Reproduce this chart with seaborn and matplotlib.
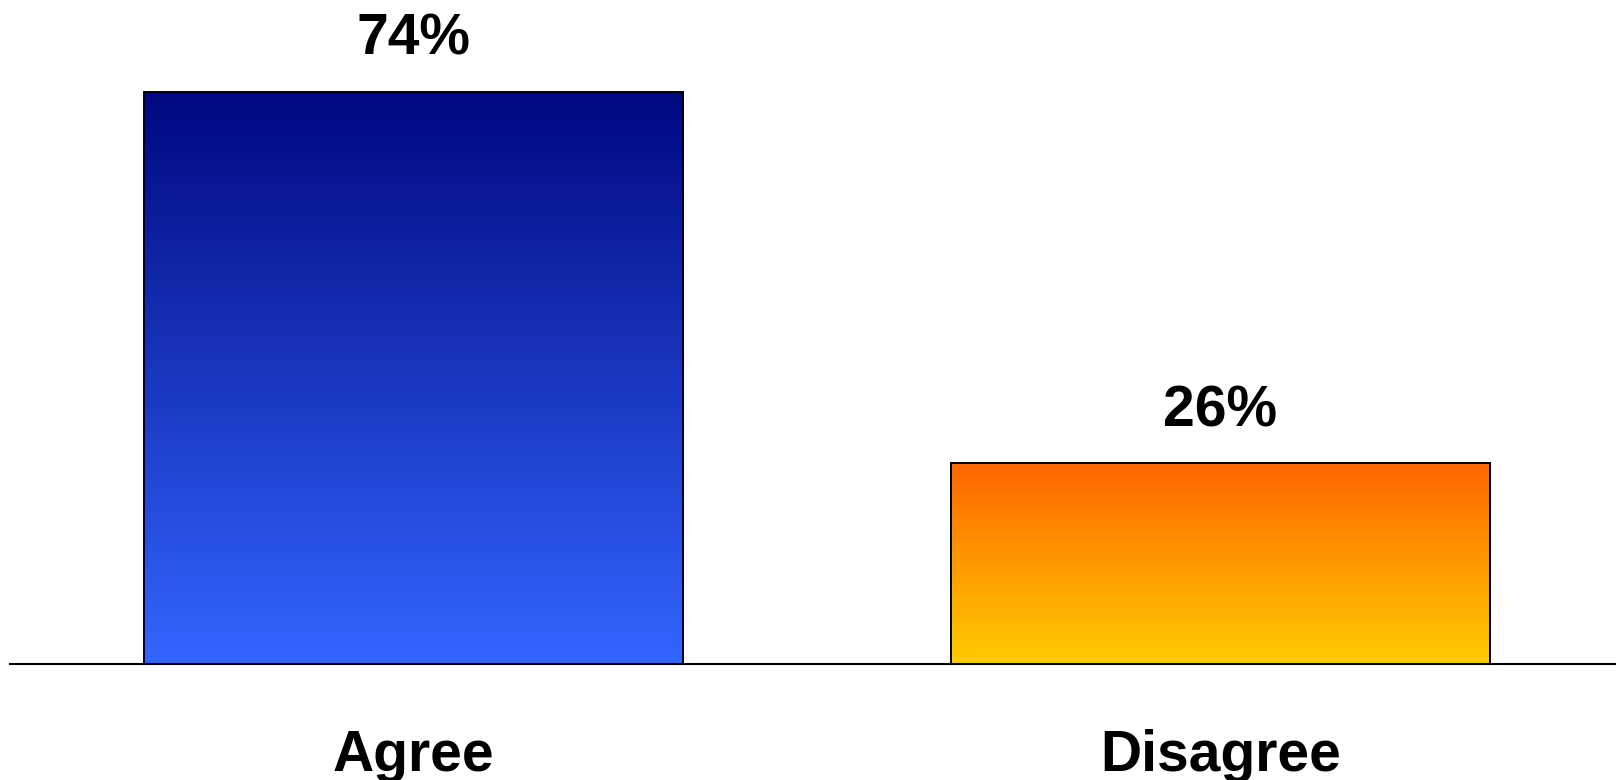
import numpy as np
import pandas as pd
import seaborn as sns
import matplotlib.pyplot as plt
from matplotlib.colors import LinearSegmentedColormap

# data
categories = ["Agree", "Disagree"]
values = [74, 26]
labels = ["74%", "26%"]
# gradient (top colour, bottom colour) per bar
gradients = [("#000880", "#3366FF"), ("#FF6600", "#FFCC00")]

sns.set_theme(style="white")
plt.rcParams['font.family'] = ['Liberation Sans', 'DejaVu Sans']
plt.rcParams['text.color'] = 'black'
plt.rcParams['xtick.color'] = 'black'

df = pd.DataFrame({"answer": categories, "pct": values})

fig = plt.figure(figsize=(16.16, 7.8), dpi=100)
ax = fig.add_axes([10 / 1616, 1 - 664 / 780, 1606 / 1616, 664 / 780])

sns.barplot(data=df, x="answer", y="pct", width=0.668, color="white",
            edgecolor="black", linewidth=1.4, ax=ax)

ax.set_xlim(-0.5, 1.49)
ax.set_ylim(0, 85.9)

# gradient fill clipped to each bar
for bar, (top, bottom) in zip(ax.patches, gradients):
    cmap = LinearSegmentedColormap.from_list("g", [bottom, top])
    x0, y0 = bar.get_x(), bar.get_y()
    w, h = bar.get_width(), bar.get_height()
    grad = np.linspace(0, 1, 256).reshape(-1, 1)
    im = ax.imshow(grad, cmap=cmap, aspect="auto", origin="lower",
                   extent=[x0, x0 + w, y0, y0 + h], zorder=bar.get_zorder() - 0.1)
    im.set_clip_path(bar)
    bar.set_facecolor("none")

ax.bar_label(ax.containers[0], labels=labels, padding=18,
             fontsize=41, fontweight="bold", color="black")

for s in ["top", "left", "right"]:
    ax.spines[s].set_visible(False)
ax.spines["bottom"].set_color("black")
ax.spines["bottom"].set_linewidth(1.5)
ax.set_yticks([])
ax.set_xlabel("")
ax.set_ylabel("")
ax.tick_params(axis="x", length=0, pad=47, labelsize=41, labelcolor="black")
for t in ax.get_xticklabels():
    t.set_fontweight("bold")

fig.savefig("out.png", dpi=100)
